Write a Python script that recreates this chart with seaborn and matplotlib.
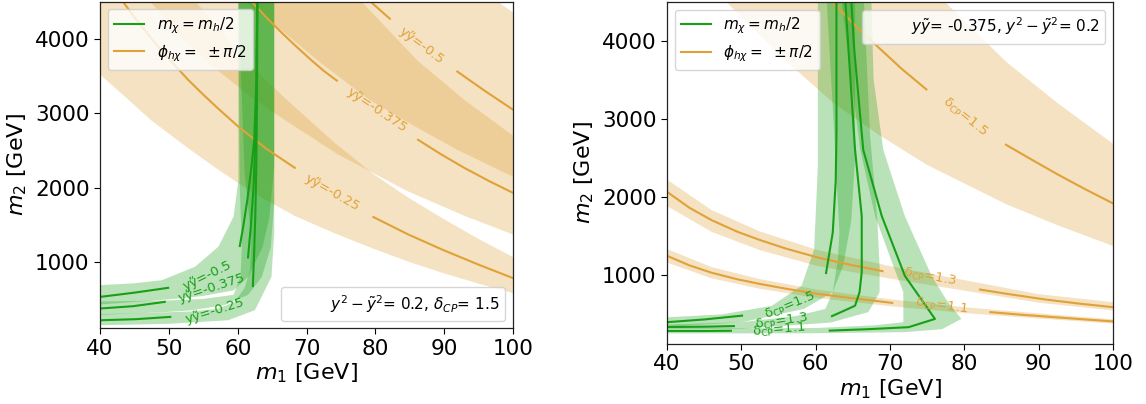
import matplotlib
matplotlib.use("Agg")
import matplotlib.pyplot as plt
import seaborn as sns
from matplotlib.lines import Line2D

plt.rcParams["font.family"] = ["DejaVu Sans"]
plt.rcParams["mathtext.fontset"] = "dejavusans"

GREEN = "#17a017"
ORANGE = "#e0a238"
M1_LIM = (40, 100)
M2_LIM = (110, 4500)

# ---------------- LEFT PANEL (y y~ scan) ----------------
# orange lines (phi = +-pi/2), two segments each (gap = label)
orA1_m1 = [79.2, 82.1]; orA1_m2 = [4508, 4271]
orA2_m1 = [91.9, 96.0, 100]; orA2_m2 = [3561, 3295, 3048]
orB1_m1 = [62.0, 64.0, 66.2, 68.3, 70.5, 72.5, 74.4]
orB1_m2 = [4504, 4304, 4100, 3915, 3730, 3570, 3439]
orB2_m1 = [86.2, 89.6, 93.0, 96.5, 100]; orB2_m2 = [2644, 2445, 2262, 2090, 1930]
orC1_m1 = [43.3, 45.0, 47.5, 50.0, 52.8, 55.0, 57.2, 60.1, 64.2, 68.3]
orC1_m2 = [4504, 4290, 4000, 3730, 3450, 3250, 3060, 2820, 2520, 2267]
orC2_m1 = [79.7, 84.8, 89.9, 95.0, 100]; orC2_m2 = [1606, 1370, 1160, 965, 784]

# orange bands: lower / upper edges
bA_lo_m1 = [61.1, 66.2, 72.0, 79.2, 86.2, 91.9, 100]
bA_lo_m2 = [4500, 4127, 3680, 3175, 2800, 2508, 2146]
bA_hi_m1 = [97.7, 100]; bA_hi_m2 = [4508, 4352]
bB_lo_m1 = [47.3, 52.0, 56.0, 62.0, 66.2, 74.4, 84.5, 93.0, 100]
bB_lo_m2 = [4500, 4007, 3655, 3217, 2948, 2456, 1960, 1619, 1370]
bB_hi_m1 = [78.0, 86.2, 93.0, 100]; bB_hi_m2 = [4500, 3700, 3174, 2700]
bC_lo_m1 = [40, 43.3, 47.5, 52.8, 57.2, 60.1, 64.2, 68.3, 74.0, 79.7, 84.8, 89.9, 95.0, 100]
bC_lo_m2 = [3520, 3250, 2900, 2530, 2240, 2060, 1830, 1620, 1390, 1180, 1005, 850, 710, 582]
bC_hi_m1 = [53.9, 57.2, 60.1, 64.2, 68.3, 74.0, 79.7, 84.8, 89.9, 95.0, 100]
bC_hi_m2 = [4500, 4145, 3811, 3434, 3083, 2610, 2184, 1865, 1580, 1310, 1067]

# green lines (m_chi = m_h/2)
g05h_m1 = [40, 45, 49.9]; g05h_m2 = [532, 589, 654]
g05v_m1 = [60.3, 60.8, 61.4, 62.0, 62.4, 62.7, 62.85]
g05v_m2 = [1216, 1476, 1836, 2284, 2644, 3408, 4508]
g0375h_m1 = [40, 44.8, 49.4]; g0375h_m2 = [376, 407, 465]
g0375v_m1 = [61.5, 61.9, 62.3, 62.5, 62.75, 62.85]
g0375v_m2 = [1063, 1476, 2015, 2509, 3408, 4508]
g025h_m1 = [40, 45.1, 50.2]; g025h_m2 = [218, 232, 263]
g025v_m1 = [62.2, 62.4, 62.55, 62.7, 62.8, 62.85]
g025v_m2 = [677, 1162, 1611, 2284, 3183, 4508]

# green bands: outer edge (bottom-left -> top) and inner edge (top -> bottom-left)
gb05_out_m1 = [40, 45.0, 49.0, 53.8, 57.2, 59.4, 60.1, 60.1]
gb05_out_m2 = [690, 715, 757, 937, 1207, 1611, 2100, 4500]
gb05_in_m1 = [65.3, 65.3, 64.6, 63.6, 61.5, 59.4, 55.0, 50.2, 40]
gb05_in_m2 = [4500, 2300, 1600, 1200, 800, 620, 545, 500, 430]
gb0375_out_m1 = [40, 50.2, 55.0, 59.4, 60.4, 60.6, 60.3, 60.1]
gb0375_out_m2 = [470, 485, 505, 560, 800, 1200, 2000, 4500]
gb0375_in_m1 = [65.3, 65.3, 64.8, 63.5, 61.5, 58.0, 53.1, 49.7, 40]
gb0375_in_m2 = [4500, 1800, 1200, 800, 560, 420, 350, 330, 290]
gb025_out_m1 = [40, 49.7, 53.1, 57.0, 59.5, 61.0, 61.8, 62.0, 61.0, 60.1]
gb025_out_m2 = [300, 325, 335, 370, 460, 650, 900, 1300, 2200, 4500]
gb025_in_m1 = [65.3, 65.3, 64.9, 62.5, 58.6, 50.0, 40]
gb025_in_m2 = [4500, 1390, 802, 353, 218, 170, 151]

# ---------------- RIGHT PANEL (delta_CP scan) ----------------
r15a_m1 = [62.3, 65.3, 68.4, 71.6, 74.9]; r15a_m2 = [4497, 4200, 3922, 3640, 3378]
r15b_m1 = [85.6, 89.0, 92.5, 96.2, 100]; r15b_m2 = [2668, 2480, 2290, 2100, 1915]
r13a_m1 = [40, 43, 46, 49.5, 52.5, 56, 60.3, 65, 69]
r13a_m2 = [2064, 1860, 1700, 1550, 1445, 1335, 1220, 1120, 1045]
r13b_m1 = [82.1, 86, 91, 95.5, 100]; r13b_m2 = [809, 750, 680, 628, 583]
r11a_m1 = [40, 43, 46, 49.5, 52.5, 56, 60.3, 65, 70.3]
r11a_m2 = [1243, 1120, 1025, 940, 881, 820, 753, 697, 638]
r11b_m1 = [83.5, 87.5, 92, 96, 100]; r11b_m2 = [519, 487, 455, 427, 400]

rb15_lo_m1 = [48.0, 55.0, 62.3, 68.4, 74.9, 85.6, 92.5, 100]
rb15_lo_m2 = [4500, 3830, 3212, 2801, 2413, 1906, 1636, 1368]
rb15_hi_m1 = [77.4, 85.6, 92.5, 100]; rb15_hi_m2 = [4500, 3735, 3206, 2681]
rb13_lo_m1 = [40, 46, 52.5, 60.3, 70, 80, 90, 100]
rb13_lo_m2 = [1881, 1550, 1315, 1110, 950, 795, 640, 540]
rb13_hi_m1 = [40, 46, 52.5, 60.3, 70, 80, 90, 100]
rb13_hi_m2 = [2221, 1830, 1555, 1315, 1110, 930, 750, 647]
rb11_lo_m1 = [40, 46, 52.5, 60.3, 70, 80, 90, 100]
rb11_lo_m2 = [1156, 953, 819, 700, 595, 507, 437, 372]
rb11_hi_m1 = [40, 46, 52.5, 60.3, 70, 80, 90, 100]
rb11_hi_m2 = [1330, 1097, 943, 806, 685, 583, 503, 428]

rg15h_m1 = [40, 45, 50.1]; rg15h_m2 = [390, 425, 474]
rg15v_m1 = [61.4, 62.3, 62.7, 62.8, 62.8]; rg15v_m2 = [1021, 1540, 2200, 2817, 4500]
rg13h_m1 = [40, 45, 49.0]; rg13h_m2 = [328, 332, 340]
rg13v_m1 = [62.2, 64.4, 65.3, 65.9, 66.2, 66.2, 65.3, 64.0]
rg13v_m2 = [468, 562, 602, 774, 1030, 1751, 2603, 4500]
rg11h_m1 = [40, 45, 48.6]; rg11h_m2 = [277, 277, 280]
rg11v_m1 = [61.9, 67.0, 72.5, 76.05, 72.0, 68.9, 66.4, 65.2, 64.8]
rg11v_m2 = [282, 300, 326, 432, 985, 1751, 2603, 3880, 4500]

rgb15_out_m1 = [40, 47.4, 54.1, 58.1, 59.8, 60.3, 60.3]
rgb15_out_m2 = [453, 490, 600, 857, 1326, 2400, 4500]
rgb15_in_m1 = [65.3, 65.3, 64.8, 63.7, 62.3, 58.4, 50.1, 40]
rgb15_in_m2 = [4500, 2500, 1700, 1115, 775, 560, 390, 330]
rgb13_out_m1 = [40, 50.1, 57.4, 61.3, 62.3, 63.0, 63.2, 62.5, 61.5]
rgb13_out_m2 = [360, 390, 470, 560, 775, 1200, 1540, 2817, 4500]
rgb13_in_m1 = [66.5, 67.3, 68.3, 68.6, 68.6, 67.1, 62.0, 50.0, 40]
rgb13_in_m2 = [4500, 2817, 1700, 1100, 775, 520, 385, 305, 300]
rgb11_out_m1 = [40, 60, 72.0, 77.0, 79.6, 77.5, 75.6, 72.0, 69.1, 67.8, 67.5]
rgb11_out_m2 = [245, 248, 262, 300, 432, 690, 985, 1751, 2603, 3500, 4500]
rgb11_in_m1 = [63.5, 66.0, 68.0, 70.5, 71.8, 71.8, 68.0, 60.0, 40]
rgb11_in_m2 = [4500, 2603, 1751, 1100, 775, 390, 350, 315, 310]

TICK_FS = 15.5
LAB_FS = 16
LEG_FS = 11
CL_FS = 9.5


def line(ax, m1, m2, color):
    sns.lineplot(x=m1, y=m2, sort=False, estimator=None, color=color,
                 lw=1.5, ax=ax, legend=False)


def band(ax, e1_m1, e1_m2, e2_m1, e2_m2, color, corner=None):
    xs = list(e1_m1) + list(e2_m1)
    ys = list(e1_m2) + list(e2_m2)
    if corner is not None:
        xs.append(corner[0]); ys.append(corner[1])
    ax.fill(xs, ys, color=color, alpha=0.3, lw=0)


def setup(ax):
    ax.set_xlim(*M1_LIM)
    ax.set_ylim(*M2_LIM)
    ax.set_xticks([40, 50, 60, 70, 80, 90, 100])
    ax.set_yticks([1000, 2000, 3000, 4000])
    ax.tick_params(labelsize=TICK_FS, direction="out", length=4, width=0.8,
                   colors="black")
    for s in ax.spines.values():
        s.set_visible(True); s.set_color("#222222"); s.set_linewidth(0.9)
    ax.set_xlabel(r"$m_1$ [GeV]", fontsize=LAB_FS, labelpad=2, color="black")
    ax.set_ylabel(r"$m_2$ [GeV]", fontsize=LAB_FS, labelpad=4, color="black")
    ax.grid(False)


def main_legend(ax):
    h = [Line2D([], [], color=GREEN, lw=1.5), Line2D([], [], color=ORANGE, lw=1.5)]
    leg = ax.legend(h, [r"$m_\chi = m_h/2$", r"$\phi_{h\chi} =\ \pm\pi/2$"],
                    loc="upper left", fontsize=LEG_FS, frameon=True,
                    labelspacing=0.45)
    ax.add_artist(leg)


def info_legend(ax, text, loc):
    h = [Line2D([], [], ls="none")]
    ax.legend(h, [text], loc=loc, fontsize=LEG_FS, frameon=True)


def clabel(ax, x, y, s, rot, color):
    ax.text(x, y, s, rotation=rot, color=color, fontsize=CL_FS,
            ha="center", va="center", rotation_mode="anchor")


fig = plt.figure(figsize=(11.46, 4.04), dpi=100)
axL = fig.add_axes([0.0873, 0.1874, 0.3604, 0.8084])
axR = fig.add_axes([0.5820, 0.1485, 0.3892, 0.8465])

# ----- left -----
ax = axL
band(ax, bA_lo_m1, bA_lo_m2, bA_hi_m1[::-1], bA_hi_m2[::-1], ORANGE)
band(ax, bB_lo_m1, bB_lo_m2, bB_hi_m1[::-1], bB_hi_m2[::-1], ORANGE)
band(ax, bC_lo_m1, bC_lo_m2, bC_hi_m1[::-1], bC_hi_m2[::-1], ORANGE,
     corner=(M1_LIM[0], M2_LIM[1]))
band(ax, gb05_out_m1, gb05_out_m2, gb05_in_m1, gb05_in_m2, GREEN)
band(ax, gb0375_out_m1, gb0375_out_m2, gb0375_in_m1, gb0375_in_m2, GREEN)
band(ax, gb025_out_m1, gb025_out_m2, gb025_in_m1, gb025_in_m2, GREEN)
for m1, m2 in [(orA1_m1, orA1_m2), (orA2_m1, orA2_m2), (orB1_m1, orB1_m2),
               (orB2_m1, orB2_m2), (orC1_m1, orC1_m2), (orC2_m1, orC2_m2)]:
    line(ax, m1, m2, ORANGE)
for m1, m2 in [(g05h_m1, g05h_m2), (g05v_m1, g05v_m2), (g0375h_m1, g0375h_m2),
               (g0375v_m1, g0375v_m2), (g025h_m1, g025h_m2), (g025v_m1, g025v_m2)]:
    line(ax, m1, m2, GREEN)
clabel(ax, 86.7, 3911, "yỹ=-0.5", -37, ORANGE)
clabel(ax, 80.2, 3048, "yỹ=-0.375", -34, ORANGE)
clabel(ax, 73.8, 1934, "yỹ=-0.25", -30, ORANGE)
clabel(ax, 55.6, 811, "yỹ=-0.5", 26, GREEN)
clabel(ax, 56.2, 646, "yỹ=-0.375", 18, GREEN)
clabel(ax, 56.7, 344, "yỹ=-0.25", 17, GREEN)
setup(ax)
main_legend(ax)
info_legend(ax, r"$y^2-\tilde{y}^2$= 0.2, $\delta_{CP}$= 1.5", "lower right")

# ----- right -----
ax = axR
band(ax, rb15_lo_m1, rb15_lo_m2, rb15_hi_m1[::-1], rb15_hi_m2[::-1], ORANGE)
band(ax, rb13_lo_m1, rb13_lo_m2, rb13_hi_m1[::-1], rb13_hi_m2[::-1], ORANGE)
band(ax, rb11_lo_m1, rb11_lo_m2, rb11_hi_m1[::-1], rb11_hi_m2[::-1], ORANGE)
band(ax, rgb15_out_m1, rgb15_out_m2, rgb15_in_m1, rgb15_in_m2, GREEN)
band(ax, rgb13_out_m1, rgb13_out_m2, rgb13_in_m1, rgb13_in_m2, GREEN)
band(ax, rgb11_out_m1, rgb11_out_m2, rgb11_in_m1, rgb11_in_m2, GREEN)
for m1, m2 in [(r15a_m1, r15a_m2), (r15b_m1, r15b_m2), (r13a_m1, r13a_m2),
               (r13b_m1, r13b_m2), (r11a_m1, r11a_m2), (r11b_m1, r11b_m2)]:
    line(ax, m1, m2, ORANGE)
for m1, m2 in [(rg15h_m1, rg15h_m2), (rg15v_m1, rg15v_m2), (rg13h_m1, rg13h_m2),
               (rg13v_m1, rg13v_m2), (rg11h_m1, rg11h_m2), (rg11v_m1, rg11v_m2)]:
    line(ax, m1, m2, GREEN)
clabel(ax, 80.1, 3028, r"$\mathrm{\delta_{CP}}$=1.5", -39, ORANGE)
clabel(ax, 75.4, 964, r"$\mathrm{\delta_{CP}}$=1.3", -10, ORANGE)
clabel(ax, 76.9, 589, r"$\mathrm{\delta_{CP}}$=1.1", -8, ORANGE)
clabel(ax, 56.6, 594, r"$\mathrm{\delta_{CP}}$=1.5", 22, GREEN)
clabel(ax, 55.4, 390, r"$\mathrm{\delta_{CP}}$=1.3", 8, GREEN)
clabel(ax, 55.1, 291, r"$\mathrm{\delta_{CP}}$=1.1", 5, GREEN)
setup(ax)
main_legend(ax)
info_legend(ax, r"$y\tilde{y}$= -0.375, $y^2-\tilde{y}^2$= 0.2", "upper right")

fig.savefig("out.png", dpi=100)
